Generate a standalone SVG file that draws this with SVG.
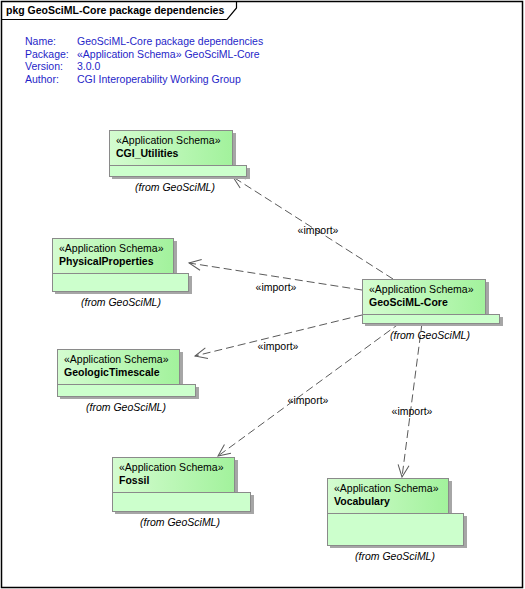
<svg xmlns="http://www.w3.org/2000/svg" width="525" height="589" viewBox="0 0 525 589">
<style>
text{font-family:"Liberation Sans",Arial,sans-serif;font-size:10.5px;fill:#000}
.hdr{fill:#1f1fc8}
.b{font-weight:bold}
.i{font-style:italic}
.m{text-anchor:middle}
.tab{fill:url(#g);stroke:#8a8a8a;stroke-width:1}
.body{fill:#ccffcc;stroke:#8a8a8a;stroke-width:1}
.sh{fill:#a6a6a6}
.dep{stroke:#5a5a5a;stroke-width:1;stroke-dasharray:8 4;fill:none;marker-end:url(#open)}
</style>
<defs>
<linearGradient id="g" x1="0" y1="0" x2="1" y2="0">
<stop offset="0" stop-color="#d4fcd0"/>
<stop offset="1" stop-color="#a2f29c"/>
</linearGradient>
<marker id="open" markerWidth="16" markerHeight="14" refX="13" refY="7" orient="auto" markerUnits="userSpaceOnUse">
<path d="M1,1.5 L13,7 L1,12.5" fill="none" stroke="#5a5a5a" stroke-width="1"/>
</marker>
</defs>
<rect x="0" y="0" width="525" height="589" fill="#fff"/>
<rect x="1.5" y="1.5" width="521" height="586" fill="none" stroke="#000" stroke-width="1.5"/>
<path d="M1.5,19.5 H227 L236.5,8 V1.5" fill="none" stroke="#000" stroke-width="1.2"/>
<text class="b" x="6" y="14">pkg GeoSciML-Core package dependencies</text>
<g id="info">
<text class="hdr" x="25" y="45">Name:</text><text class="hdr" x="77" y="45">GeoSciML-Core package dependencies</text>
<text class="hdr" x="25" y="57.5">Package:</text><text class="hdr" x="77" y="57.5">«Application Schema» GeoSciML-Core</text>
<text class="hdr" x="25" y="70">Version:</text><text class="hdr" x="77" y="70">3.0.0</text>
<text class="hdr" x="25" y="82.5">Author:</text><text class="hdr" x="77" y="82.5">CGI Interoperability Working Group</text>
</g>
<g id="connectors">
<line class="dep" x1="393" y1="279" x2="233" y2="177"/>
<line class="dep" x1="362" y1="290" x2="189" y2="263"/>
<line class="dep" x1="362" y1="315" x2="195" y2="356"/>
<line class="dep" x1="400" y1="323" x2="218" y2="456"/>
<line class="dep" x1="422" y1="323" x2="402" y2="477"/>
<text class="m" x="318" y="234">«import»</text>
<text class="m" x="276" y="291">«import»</text>
<text class="m" x="278" y="350">«import»</text>
<text class="m" x="308" y="404">«import»</text>
<text class="m" x="412" y="415">«import»</text>
</g>
<g id="CGI_Utilities">
<rect class="sh" x="112" y="133" width="124" height="35"/><rect class="sh" x="112" y="168" width="138" height="11"/>
<rect class="tab" x="109.5" y="130.5" width="123" height="35"/><rect class="body" x="109.5" y="165.5" width="137" height="11"/>
<text x="116" y="144">«Application Schema»</text><text class="b" x="116" y="157">CGI_Utilities</text>
<text class="i m" x="175" y="191">(from GeoSciML)</text>
</g>
<g id="PhysicalProperties">
<rect class="sh" x="55" y="241" width="122" height="35"/><rect class="sh" x="55" y="276" width="137" height="18"/>
<rect class="tab" x="52.5" y="238.5" width="121" height="35"/><rect class="body" x="52.5" y="273.5" width="136" height="18"/>
<text x="59" y="252">«Application Schema»</text><text class="b" x="59" y="265">PhysicalProperties</text>
<text class="i m" x="121" y="306">(from GeoSciML)</text>
</g>
<g id="GeoSciML-Core">
<rect class="sh" x="365" y="282" width="124" height="35"/><rect class="sh" x="365" y="317" width="138" height="9"/>
<rect class="tab" x="362.5" y="279.5" width="123" height="35"/><rect class="body" x="362.5" y="314.5" width="137" height="9"/>
<text x="369" y="293">«Application Schema»</text><text class="b" x="369" y="306">GeoSciML-Core</text>
<text class="i m" x="430" y="339">(from GeoSciML)</text>
</g>
<g id="GeologicTimescale">
<rect class="sh" x="60" y="352" width="123" height="35"/><rect class="sh" x="60" y="387" width="139" height="12"/>
<rect class="tab" x="57.5" y="349.5" width="122" height="35"/><rect class="body" x="57.5" y="384.5" width="138" height="12"/>
<text x="64" y="363">«Application Schema»</text><text class="b" x="64" y="376">GeologicTimescale</text>
<text class="i m" x="126" y="411">(from GeoSciML)</text>
</g>
<g id="Fossil">
<rect class="sh" x="115" y="460" width="123" height="35"/><rect class="sh" x="115" y="495" width="139" height="19"/>
<rect class="tab" x="112.5" y="457.5" width="122" height="35"/><rect class="body" x="112.5" y="492.5" width="138" height="19"/>
<text x="119" y="471">«Application Schema»</text><text class="b" x="119" y="484">Fossil</text>
<text class="i m" x="180" y="526">(from GeoSciML)</text>
</g>
<g id="Vocabulary">
<rect class="sh" x="330" y="481" width="122" height="35"/><rect class="sh" x="330" y="516" width="137" height="32"/>
<rect class="tab" x="327.5" y="478.5" width="121" height="35"/><rect class="body" x="327.5" y="513.5" width="136" height="32"/>
<text x="334" y="492">«Application Schema»</text><text class="b" x="334" y="505">Vocabulary</text>
<text class="i m" x="395" y="560">(from GeoSciML)</text>
</g>
</svg>
